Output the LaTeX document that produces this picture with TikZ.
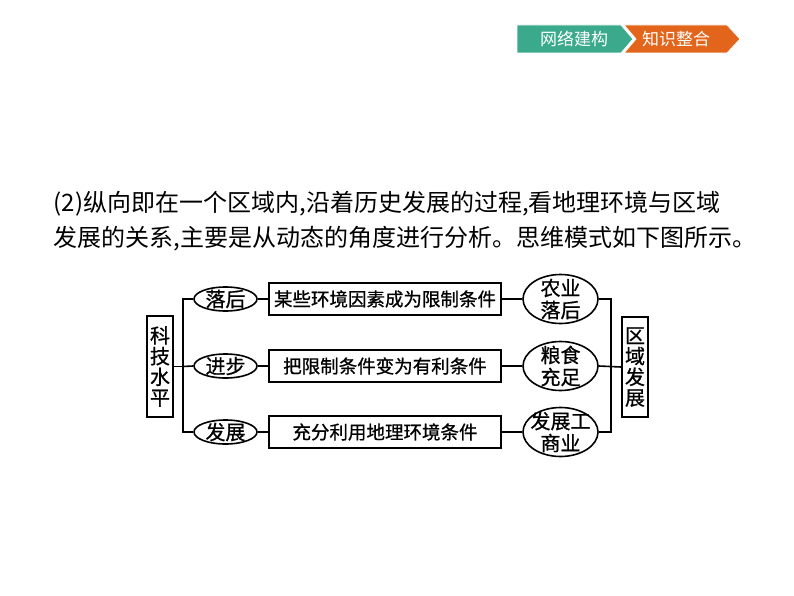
\documentclass[tikz,border=0pt]{standalone}
\usepackage{fontspec}
\setmainfont{Noto Sans CJK SC}
\newfontfamily\diagfont[FakeBold=0.8]{Noto Sans CJK SC}
\usetikzlibrary{shapes.geometric}
\definecolor{tealc}{HTML}{3BA98C}
\definecolor{orangec}{HTML}{E2651B}
\begin{document}
\begin{tikzpicture}[x=1pt,y=-1pt,line width=1.6pt,
  box/.style={draw,rectangle,inner sep=0pt},
  oval/.style={draw,ellipse,inner sep=0pt},
  lbl/.style={inner sep=0pt,align=center,font=\diagfont\fontsize{20}{22}\selectfont},
  boxtext/.style={font=\diagfont\fontsize{18.5}{20}\selectfont},
  vtext/.style={align=center,font=\diagfont\fontsize{20}{20.7}\selectfont},
  hdr/.style={inner sep=0pt,text=white,font=\fontsize{17}{18}\selectfont},
  para/.style={inner sep=0pt,anchor=west,font=\fontsize{24}{28}\selectfont}]
\useasboundingbox (0,0) rectangle (794,596);
\fill[white] (0,0) rectangle (794,596);
% header tabs
\filldraw[fill=tealc,draw=white,line width=0.8pt] (517,25) -- (621,25) -- (633,39) -- (621,53) -- (517,53) -- cycle;
\filldraw[fill=orangec,draw=white,line width=0.8pt] (624,25) -- (727,25) -- (740,39) -- (727,53) -- (624,53) -- (636,39) -- cycle;
\node[hdr] (h1) at (574,39) {网络建构};
\node[hdr] (h2) at (676,39) {知识整合};
% paragraph
\node[para] (p1) at (53,204) {(2)纵向即在一个区域内,沿着历史发展的过程,看地理环境与区域};
\node[para] (p2) at (53,239) {发展的关系,主要是从动态的角度进行分析。思维模式如下图所示。};
% diagram
\node[box,vtext,minimum width=26pt,minimum height=101pt] (kj) at (160,366.5) {科\\技\\水\\平};
\node[box,vtext,minimum width=26pt,minimum height=100pt] (qy) at (635,367) {区\\域\\发\\展};
\foreach \i/\y in {1/299,2/366,3/432}{
  \node[oval,minimum width=63pt,minimum height=24pt] (e\i) at (225.5,\y) {};
  \node[box,minimum width=232pt,minimum height=32pt] (b\i) at (385,\y) {};
  \node[oval,minimum width=75pt,minimum height=49pt] (r\i) at (560.5,\y) {};
}
\node[lbl] (te1) at (e1) {落后};
\node[lbl] (te2) at (e2) {进步};
\node[lbl] (te3) at (e3) {发展};
\node[boxtext] (tb1) at (b1) {某些环境因素成为限制条件};
\node[boxtext] (tb2) at (b2) {把限制条件变为有利条件};
\node[boxtext] (tb3) at (b3) {充分利用地理环境条件};
\node[lbl] (tr1) at (r1) {农业\\落后};
\node[lbl] (tr2) at (r2) {粮食\\充足};
\node[lbl] (tr3) at (r3) {发展工\\商业};
\coordinate (lb) at (183,366.5);
\coordinate (rb) at (611,366.5);
\draw (kj.east) -- (lb);
\draw (e1.west) -| (lb);
\draw (e3.west) -| (lb);
\draw (e2.west) -- (lb);
\foreach \i in {1,2,3}{
  \draw (e\i.east) -- (b\i.west);
  \draw (b\i.east) -- (r\i.west);
}
\draw (r1.east) -| (rb);
\draw (r3.east) -| (rb);
\draw (r2.east) -- (qy.west);
\end{tikzpicture}
\end{document}
